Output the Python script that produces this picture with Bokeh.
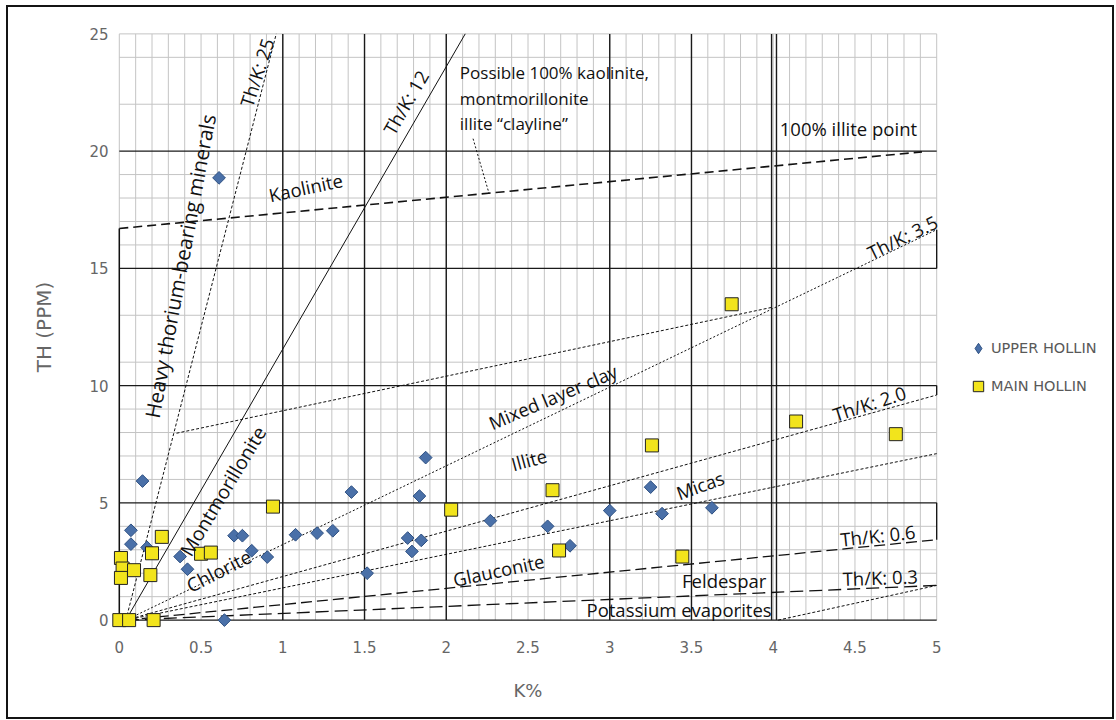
from bokeh.plotting import figure
from bokeh.layouts import row
from bokeh.models import Range1d, FixedTicker, NumeralTickFormatter, Legend, LegendItem, ColumnDataSource
from bokeh.core.properties import value
from bokeh.embed import file_html
from bokeh.resources import INLINE
import numpy as np

# ---- spectral gamma readings: potassium (%) vs thorium (ppm) ----
upper_k = [0.61, 0.142, 0.071, 0.071, 0.17, 0.372, 0.417, 0.643, 0.702, 0.753,
           0.81, 0.905, 1.078, 1.21, 1.306, 1.42, 1.516, 1.874, 1.836, 1.764,
           1.847, 1.79, 2.27, 2.62, 2.757, 3.0, 3.25, 3.32, 3.625]
upper_th = [18.86, 5.93, 3.83, 3.24, 3.1, 2.71, 2.17, 0.0, 3.6, 3.6,
            2.96, 2.69, 3.64, 3.71, 3.81, 5.46, 2.0, 6.93, 5.29, 3.5,
            3.4, 2.93, 4.24, 4.0, 3.17, 4.67, 5.67, 4.54, 4.79]

main_k = [0.0, 0.06, 0.21, 0.01, 0.02, 0.01, 0.09, 0.19, 0.2, 0.26,
          0.5, 0.56, 0.94, 2.03, 2.65, 2.69, 3.258, 3.444, 3.746, 4.14, 4.75]
main_th = [0.0, 0.0, 0.0, 2.65, 2.2, 1.8, 2.13, 1.92, 2.85, 3.55,
           2.83, 2.88, 4.84, 4.71, 5.54, 2.97, 7.45, 2.71, 13.47, 8.47, 7.93]

series_names = ["UPPER HOLLIN", "MAIN HOLLIN"]

# axis ticks
k_ticks = [0, 0.5, 1, 1.5, 2, 2.5, 3, 3.5, 4, 4.5, 5]
th_ticks = [0, 5, 10, 15, 20, 25]

# chart grid
k_minor = [round(0.1 * i, 1) for i in range(0, 51)]
th_minor = [1, 2, 3, 4, 6, 7, 8, 9, 11, 13, 16, 17, 18, 19, 22, 24, 25]
k_major = [1, 1.5, 2, 3, 3.5, 3.99, 4.02]
th_major = [0, 5, 10, 15, 20]

# mineral boundary lines of the Th/K crossplot: (k0, th0, k1, th1, dash, width)
boundary_lines = [
    (0.04, 0.0, 0.96, 25.0, "3 2", 1.0),      # Th/K 25
    (0.04, 0.0, 2.116, 25.0, "solid", 1.0),   # Th/K 12
    (0.0, 16.7, 4.91, 19.97, "9 5", 1.6),     # clayline
    (2.164, 20.53, 2.262, 18.19, "2 2", 1.0), # clayline leader
    (0.04, 0.0, 5.0, 16.65, "2 2", 1.0),      # Th/K 3.5
    (0.35, 7.97, 4.0, 13.35, "3 2", 1.0),     # mixed layer clay
    (0.04, 0.0, 5.0, 9.6, "3 2", 1.0),        # Th/K 2.0
    (0.04, 0.0, 5.0, 7.1, "3 2", 1.0),        # micas
    (0.04, 0.0, 5.0, 3.43, "11 5", 1.3),      # Th/K 0.6
    (0.04, 0.0, 5.0, 1.48, "13 6", 1.3),      # Th/K 0.3
    (4.03, 0.0, 5.0, 1.48, "3 2", 1.0),       # potassium evaporites
    (0.0, 0.0, 0.0, 16.7, "solid", 1.5),      # left edge of clay field
    (5.0, 10.0, 5.0, 9.6, "solid", 1.3),
    (5.0, 5.0, 5.0, 3.43, "solid", 1.3),
    (5.0, 15.0, 5.0, 16.65, "solid", 1.3),
]

# field names: (text, k, th, angle in degrees, font size)
field_labels = [
    ("Th/K: 25", 0.84, 23.36, 72, "18.5px"),
    ("Heavy thorium-bearing minerals", 0.371, 15.1, 79.4, "20.5px"),
    ("Kaolinite", 1.14, 18.46, 12, "18.5px"),
    ("Th/K: 12", 1.751, 22.08, 60, "18.5px"),
    ("Th/K: 3.5", 4.79, 16.34, 26, "18.5px"),
    ("Mixed layer clay", 2.652, 9.53, 23, "18.5px"),
    ("Illite", 2.506, 6.85, 15, "18.5px"),
    ("Th/K: 2.0", 4.588, 9.25, 18, "18.5px"),
    ("Micas", 3.553, 5.76, 20, "18.5px"),
    ("Th/K: 0.6", 4.64, 3.62, 6, "18.5px"),
    ("Glauconite", 2.32, 2.14, 12, "18.5px"),
    ("Feldespar", 3.70, 1.69, 0, "18.5px"),
    ("Th/K: 0.3", 4.655, 1.83, 2, "18.5px"),
    ("Potassium evaporites", 3.424, 0.46, 0, "18.5px"),
    ("Montmorillonite", 0.633, 5.5, 59, "19.5px"),
    ("Chlorite", 0.61, 2.09, 27, "19px"),
]
note_lines = ["Possible 100% kaolinite,", "montmorillonite", "illite \u201cclayline\u201d"]
note_k = 2.083
note_th = [23.36, 22.25, 21.19]
illite_point = ("100% illite point", 4.04, 20.97)

diamond_style = dict(marker="square", angle=np.pi / 4, size=9,
                     fill_color="#4a70a8", line_color="#2f5183", line_width=1)
square_style = dict(marker="square", size=13,
                    fill_color="#f2e41c", line_color="#222222", line_width=1)

p = figure(width=938, height=710,
           x_range=Range1d(-0.06, 5.06), y_range=Range1d(-0.4, 25.4),
           output_backend="svg", toolbar_location=None,
           min_border_left=101, min_border_right=0,
           min_border_top=17, min_border_bottom=88)
p.xgrid.visible = False
p.ygrid.visible = False
p.outline_line_color = None
p.background_fill_color = "white"
p.border_fill_color = "white"

# grid
grid_col = "#c4c4c4"
p.segment(x0=k_minor, y0=[0] * len(k_minor), x1=k_minor, y1=[25] * len(k_minor),
          line_color=grid_col, line_width=1)
p.segment(x0=[0] * len(th_minor), y0=th_minor, x1=[5] * len(th_minor), y1=th_minor,
          line_color=grid_col, line_width=1)
p.segment(x0=k_major, y0=[0] * len(k_major), x1=k_major, y1=[25] * len(k_major),
          line_color="#1a1a1a", line_width=1.4)
p.segment(x0=[0] * len(th_major), y0=th_major, x1=[5] * len(th_major), y1=th_major,
          line_color="#1a1a1a", line_width=1.4)

for k0, t0, k1, t1, dash, w in boundary_lines:
    p.segment(x0=[k0], y0=[t0], x1=[k1], y1=[t1], line_color="#111111",
              line_width=w, line_dash=dash)

# data
p.scatter(upper_k, upper_th, **diamond_style)
p.scatter(main_k, main_th, **square_style)

# field labels
lab_src = ColumnDataSource(dict(
    text=[f[0] for f in field_labels], x=[f[1] for f in field_labels],
    y=[f[2] for f in field_labels], a=[f[3] for f in field_labels],
    fs=[f[4] for f in field_labels]))
p.text(x="x", y="y", text="text", angle="a", angle_units="deg", source=lab_src,
       text_font=value("Open Sans"), text_font_size="fs", text_color="#111111",
       text_align="center", text_baseline="middle")
p.text(x=[note_k] * len(note_lines), y=note_th, text=note_lines,
       text_font=value("Open Sans"), text_font_size="17px", text_color="#111111",
       text_align="left", text_baseline="middle")
p.text(x=[illite_point[1]], y=[illite_point[2]], text=[illite_point[0]],
       text_font=value("Open Sans"), text_font_size="18.5px", text_color="#111111",
       text_align="left", text_baseline="middle")

# axes
for ax in (p.xaxis[0], p.yaxis[0]):
    ax.axis_line_color = None
    ax.major_tick_line_color = None
    ax.minor_tick_line_color = None
    ax.major_tick_out = 0
    ax.major_label_text_font = "DejaVu Sans"
    ax.major_label_text_font_size = "15px"
    ax.major_label_text_color = "#666666"
    ax.axis_label_text_font = "DejaVu Sans"
    ax.axis_label_text_font_style = "normal"
    ax.axis_label_text_color = "#666666"

p.xaxis.ticker = FixedTicker(ticks=k_ticks)
p.xaxis.formatter = NumeralTickFormatter(format="0.[0]")
p.xaxis.axis_label = "K%"
p.xaxis.axis_label_text_font_size = "18px"
p.xaxis.major_label_standoff = 11
p.xaxis.axis_label_standoff = 24

p.yaxis.ticker = FixedTicker(ticks=th_ticks)
p.yaxis.formatter = NumeralTickFormatter(format="0")
p.yaxis.axis_label = "TH (PPM)"
p.yaxis.axis_label_text_font_size = "20px"
p.yaxis.major_label_standoff = 1
p.yaxis.axis_label_standoff = 30

# key panel to the right of the plot; its proxy glyphs sit outside the view
key = figure(width=166, height=710, x_range=Range1d(0, 1), y_range=Range1d(0, 1),
             output_backend="svg", toolbar_location=None,
             x_axis_location=None, y_axis_location=None, min_border=0)
key.xgrid.visible = False
key.ygrid.visible = False
key.outline_line_color = None
key_upper = key.scatter(x=[-5], y=[-5], marker="diamond", size=12,
                        fill_color="#4a70a8", line_color="#2f5183", line_width=1)
key_main = key.scatter(x=[-5], y=[-5], **square_style)

legend = Legend(items=[LegendItem(label=series_names[0], renderers=[key_upper]),
                       LegendItem(label=series_names[1], renderers=[key_main])],
                location=(19, 230))
legend.background_fill_alpha = 0
legend.border_line_color = None
legend.padding = 0
legend.margin = 0
legend.spacing = 12
legend.glyph_width = 26
legend.glyph_height = 26
legend.label_height = 26
legend.label_standoff = 0
legend.label_text_font = "DejaVu Sans"
legend.label_text_font_size = "14.5px"
legend.label_text_color = "#595959"
key.add_layout(legend)

layout = row(p, key, spacing=0)
layout.margin = (5, 0, 0, 6)
layout.styles = {"border": "2px solid #141414", "background-color": "white"}

open("out.html", "w").write(file_html(layout, INLINE))
